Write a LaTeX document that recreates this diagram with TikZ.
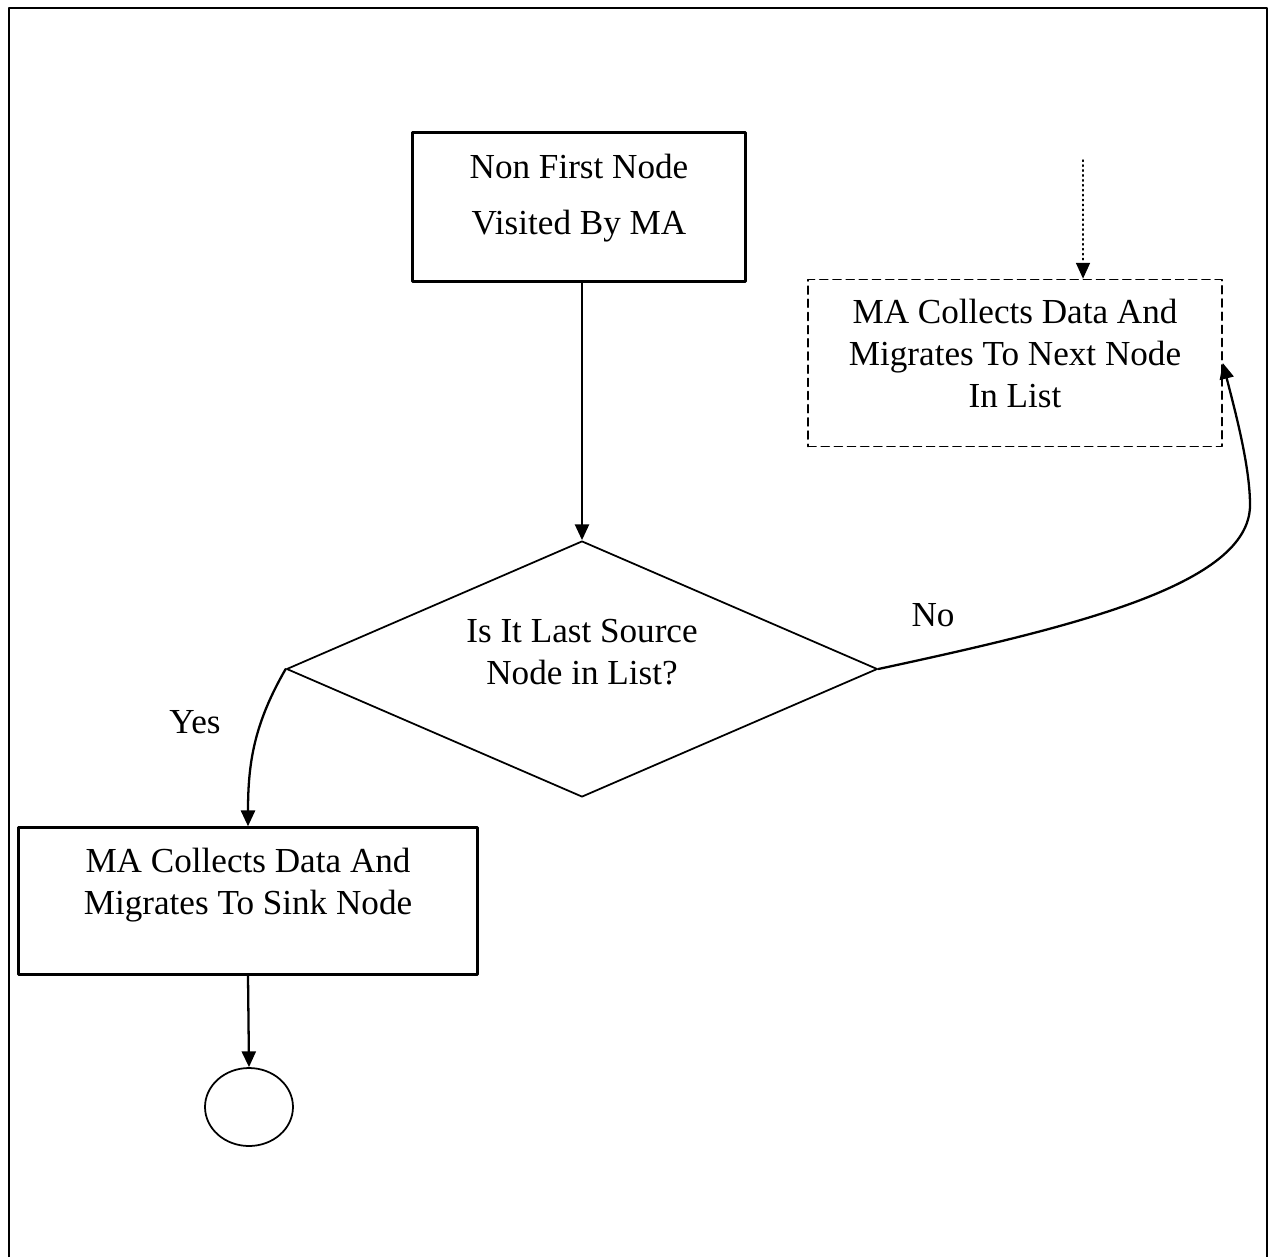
\documentclass[tikz,border=0pt]{standalone}
\usepackage{fontspec}
\setmainfont{Liberation Serif}
\usetikzlibrary{shapes.geometric,arrows.meta}
\begin{document}
\begin{tikzpicture}[x=0.02cm, y=-0.02cm, font=\fontsize{20}{24}\selectfont, line join=round, line cap=round, >={Triangle[length=9pt,width=8pt]},
	box/.style={draw, line width=1.4pt, align=center, inner sep=0pt},
	dbox/.style={draw, line width=1pt, dash pattern=on 4.5pt off 3pt, align=center, inner sep=0pt},
	arr/.style={->, line width=1.3pt}]
	\useasboundingbox (0,0) rectangle (1270,1257);
	\def\fw{1.6pt} % khung ngoai
	\draw[line width=\fw, line cap=butt] (9,1257) -- (9,8) -- (1267,8) -- (1267,1257);
	\node[box, minimum width=6.66cm, minimum height=2.98cm, text depth=0.52cm] (visit) at (579,207) {Non First Node\\[8pt]Visited By MA};
	\node[draw, line width=1pt, diamond, aspect=2, inner sep=0pt, minimum width=11.82cm, minimum height=5.12cm, align=center, text depth=0.68cm] (dec) at (582,669) {Is It Last Source\\Node in List?};
	\node[dbox, minimum width=8.28cm, minimum height=3.34cm, text depth=0.4cm] (nxt) at (1015,363) {MA Collects Data And\\Migrates To Next Node\\In List};
	\node[box, minimum width=9.18cm, minimum height=2.94cm, text depth=0.8cm] (sink) at (248,901) {MA Collects Data And\\Migrates To Sink Node};
	\node[draw, line width=1pt, ellipse, minimum width=1.76cm, minimum height=1.56cm, inner sep=0pt] (stop) at (249,1107) {};
	\coordinate (feed) at (1083,160);
	\draw[arr] (visit.south -| dec.north) -- (dec.north);
	\draw[->, line width=0.8pt, dotted] (feed) -- (feed |- nxt.north);
	\draw[arr] (dec.west) to[out=240, in=90] (sink.north);
	\draw[arr] (dec.east) .. controls (1073,627) and (1250,585) .. (1250,505) .. controls (1250,465) and (1234,407) .. (nxt.east);
	\draw[arr] (sink.south) -- (stop.north);
	\node (yes) at (195,722) {Yes};
	\node (no) at (933,615) {No};
\end{tikzpicture}
\end{document}
